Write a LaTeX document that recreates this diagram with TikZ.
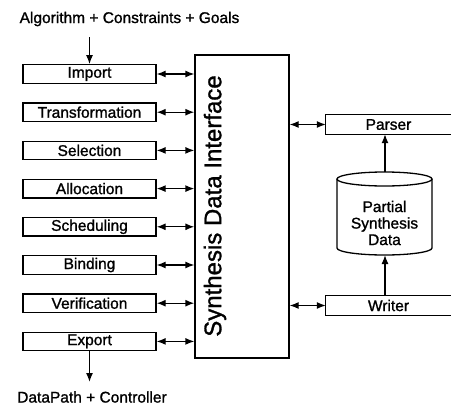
\documentclass[tikz,border=0pt]{standalone}
\usepackage{fontspec}
\setmainfont[FakeBold=1.2]{Liberation Sans}
\usetikzlibrary{arrows.meta}
\begin{document}
\begin{tikzpicture}[x=1pt,y=1pt,
  lw/.style={line width=1.3pt},
  txt/.style={font=\fontsize{15.5}{16.5}\selectfont, inner sep=0pt},
  stagebox/.style={lw, draw, txt, minimum width=133pt, minimum height=18.5pt},
  sidebox/.style={txt, minimum width=125pt, minimum height=19pt},
  arr/.style={lw, -{Latex[length=9pt,width=7pt]}},
  dbl/.style={lw, {Latex[length=9pt,width=7pt]}-{Latex[length=9pt,width=7pt]}}
]
\useasboundingbox (0,0) rectangle (451,-405);
% top and bottom texts
\node[txt] (alg) at (129.5,-19) {Algorithm + Constraints + Goals};
\node[txt] (dp) at (92,-397) {DataPath + Controller};
% stage boxes
\node[stagebox] (b1) at (89.5,-74.0) {Import};
\node[stagebox] (b2) at (89.5,-112.2) {Transformation};
\node[stagebox] (b3) at (89.5,-150.4) {Selection};
\node[stagebox] (b4) at (89.5,-188.6) {Allocation};
\node[stagebox] (b5) at (89.5,-226.8) {Scheduling};
\node[stagebox] (b6) at (89.5,-265.0) {Binding};
\node[stagebox] (b7) at (89.5,-303.2) {Verification};
\node[stagebox] (b8) at (89.5,-341.4) {Export};
% interface
\node[lw, draw, minimum width=94pt, minimum height=303pt, inner sep=0pt] (sdi) at (242,-206.5) {};
\node[rotate=90, font=\fontsize{24}{26}\selectfont, inner sep=0pt] (sdit) at (215,-206) {Synthesis Data Interface};
% in/out arrows
\coordinate (algend) at (89.5,-37);
\coordinate (dpend) at (89.5,-382);
\draw[arr] (algend) -- (b1.north);
\draw[arr] (b8.south) -- (dpend);
\foreach \i in {1,...,8}{
  \draw[dbl] (b\i.east) -- (b\i.east -| sdi.west);
}
% parser and writer (open on the right)
\node[sidebox] (parser) at (388.5,-124.5) {Parser};
\node[sidebox] (writer) at (388.5,-305.5) {Writer};
\draw[lw] (parser.north east) -- (parser.north west) -- (parser.south west) -- (parser.south east);
\draw[lw] (writer.north east) -- (writer.north west) -- (writer.south west) -- (writer.south east);
\draw[dbl] (parser.west -| sdi.east) -- (parser.west);
\draw[dbl] (writer.west -| sdi.east) -- (writer.west);
% cylinder
\draw[lw] (337,-179) -- (337,-248) arc[start angle=180, end angle=360, x radius=47.5, y radius=7] -- (432,-179);
\draw[lw] (384.5,-179) ellipse[x radius=47.5, y radius=7];
\node[txt, align=center] (psd) at (384.5,-223) {Partial\\Synthesis\\Data};
\coordinate (cyltop) at (385,-172);
\coordinate (cylbot) at (385,-255);
\draw[arr] (cyltop) -- (cyltop |- parser.south);
\draw[arr] (cylbot |- writer.north) -- (cylbot);
\end{tikzpicture}
\end{document}
